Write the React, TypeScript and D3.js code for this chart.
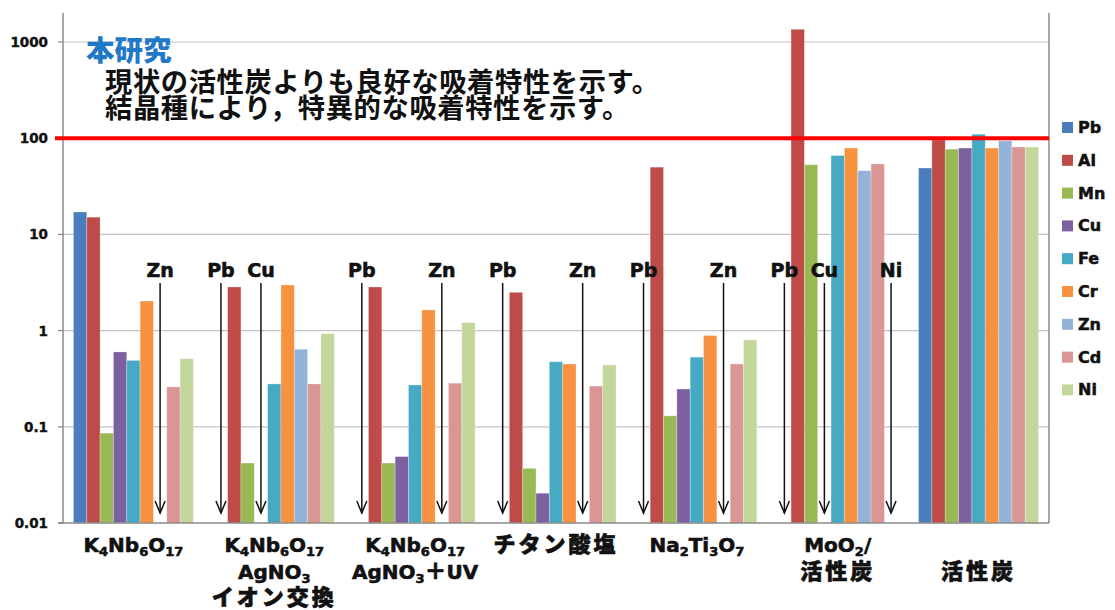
import React from 'react';
import * as d3 from 'd3';

// Adsorbed amount per adsorbent (log scale); null = not adsorbed (marked with an arrow)
const categories = ['K4Nb6O17', 'K4Nb6O17 AgNO3', 'K4Nb6O17 AgNO3+UV', 'チタン酸塩', 'Na2Ti3O7', 'MoO2/活性炭', '活性炭'];
const categoryLabelLines: string[][] = [
  ['K_{4}Nb_{6}O_{17}'],
  ['K_{4}Nb_{6}O_{17}', 'AgNO_{3}', 'イオン交換'],
  ['K_{4}Nb_{6}O_{17}', 'AgNO_{3}＋UV'],
  ['チタン酸塩'],
  ['Na_{2}Ti_{3}O_{7}'],
  ['MoO_{2}/', '活性炭'],
  ['', '活性炭'],
];

const metals = ['Pb', 'Al', 'Mn', 'Cu', 'Fe', 'Cr', 'Zn', 'Cd', 'Ni'];
const metalColors = ['#4a7ebb', '#be4b48', '#98b954', '#7d60a0', '#46aac5', '#f69240', '#94b3d7', '#d99694', '#c3d69b'];

const pbValues = [17.1, null, null, null, null, null, 49];
const alValues = [15.1, 2.84, 2.84, 2.5, 50, 1356, 96];
const mnValues = [0.086, 0.042, 0.042, 0.037, 0.13, 53, 77];
const cuValues = [0.6, null, 0.049, 0.0204, 0.247, null, 79];
const feValues = [0.49, 0.279, 0.272, 0.475, 0.53, 66, 110];
const crValues = [2.03, 2.98, 1.64, 0.45, 0.89, 79, 79];
const znValues = [null, 0.64, null, null, null, 46, 94];
const cdValues = [0.26, 0.279, 0.284, 0.265, 0.45, 54, 81];
const niValues = [0.51, 0.93, 1.21, 0.44, 0.8, null, 81];
const seriesValues: (number | null)[][] = [pbValues, alValues, mnValues, cuValues, feValues, crValues, znValues, cdValues, niValues];

const yTicks = [0.01, 0.1, 1, 10, 100, 1000];
const yTickLabels = ['0.01', '0.1', '1', '10', '100', '1000'];
const thresholdValue = 100;

const headline = '本研究';
const noteLines = ['現状の活性炭よりも良好な吸着特性を示す。', '結晶種により，特異的な吸着特性を示す。'];

const W = 1115;
const H = 610;
const left = 63;
const right = 1049;
const top = 13;
const bottom = 523;

const latinFont = '"DejaVu Sans", "Liberation Sans", sans-serif';
const cjkFont = '"Noto Sans CJK JP", "Noto Sans CJK SC", sans-serif';
const ink = '#111';

type Seg = { text: string; sub: boolean; cjk: boolean };

function splitLabel(line: string): Seg[] {
  const out: Seg[] = [];
  const re = /_\{([^}]*)\}|[\u3000-\u9fff\uff00-\uffef]+|[^_\u3000-\u9fff\uff00-\uffef]+/g;
  let m: RegExpExecArray | null;
  while ((m = re.exec(line))) {
    if (m[1] !== undefined) out.push({ text: m[1], sub: true, cjk: false });
    else out.push({ text: m[0], sub: false, cjk: /[\u3000-\u9fff\uff00-\uffef]/.test(m[0]) });
  }
  return out;
}

function CategoryLine({ x, y, line }: { x: number; y: number; line: string }) {
  const segs = splitLabel(line);
  let shifted = false;
  return (
    <text x={x} y={y} textAnchor="middle" fontWeight={900} fill={ink} stroke={ink} strokeWidth={0.6}>
      {segs.map((s, i) => {
        let dy = 0;
        if (s.sub && !shifted) { dy = 4; shifted = true; }
        else if (!s.sub && shifted) { dy = -4; shifted = false; }
        return (
          <tspan
            key={i}
            dy={dy || undefined}
            fontFamily={s.cjk ? cjkFont : latinFont}
            fontSize={s.cjk ? 22 : s.sub ? 13 : 20}
            letterSpacing={s.cjk && s.text.length > 1 ? 3 : 0}
          >
            {s.text}
          </tspan>
        );
      })}
    </text>
  );
}

export default function App() {
  const x0 = d3.scaleBand<string>().domain(categories).range([left, right]).paddingInner(0.148).paddingOuter(0.074);
  const x1 = d3.scaleBand<string>().domain(metals).range([0, x0.bandwidth()]);
  const y = d3.scaleLog().domain([0.01, 1000]).range([bottom, 42]);
  const bw = x1.bandwidth();

  const bars: React.ReactNode[] = [];
  const arrows: React.ReactNode[] = [];
  metals.forEach((metal, mi) => {
    seriesValues[mi].forEach((v, ci) => {
      const bx = (x0(categories[ci]) ?? 0) + (x1(metal) ?? 0);
      if (v == null) {
        const cx = bx + bw / 2;
        arrows.push(
          <g key={`a-${metal}-${ci}`}>
            <text x={cx} y={277} textAnchor="middle" fontFamily={latinFont} fontWeight={700} fontSize={19} fill={ink} stroke={ink} strokeWidth={0.6}>
              {metal}
            </text>
            <line x1={cx} x2={cx} y1={283} y2={513} stroke={ink} strokeWidth={1.5} />
            <path d={`M${cx - 5},${501}L${cx},${513}L${cx + 5},${501}`} fill="none" stroke={ink} strokeWidth={1.5} />
          </g>
        );
      } else {
        const by = y(v);
        bars.push(
          <rect
            key={`b-${metal}-${ci}`}
            x={bx}
            y={by}
            width={bw}
            height={bottom - by}
            fill={metalColors[mi]}
            stroke="rgba(255,255,255,0.35)"
            strokeWidth={0.8}
          />
        );
      }
    });
  });

  return (
    <svg width={W} height={H} style={{ position: 'absolute', left: 0, top: 0, background: '#fff' }}>
      {/* gridlines */}
      {yTicks.slice(1).map((t) => (
        <line key={`g${t}`} x1={left} x2={right} y1={y(t)} y2={y(t)} stroke="#c4c4c4" strokeWidth={1.2} />
      ))}
      {/* tick marks + labels */}
      {yTicks.map((t, i) => (
        <g key={`t${t}`}>
          <line x1={58} x2={left} y1={y(t)} y2={y(t)} stroke="#8a8a8a" strokeWidth={1.2} />
          <text x={48} y={y(t) + 5} textAnchor="end" fontFamily={latinFont} fontWeight={700} fontSize={13.5} fill={ink} stroke={ink} strokeWidth={0.4}>
            {yTickLabels[i]}
          </text>
        </g>
      ))}
      {bars}
      {/* axes */}
      <line x1={left} x2={left} y1={top} y2={bottom} stroke="#8a8a8a" strokeWidth={1.5} />
      <line x1={right} x2={right} y1={top} y2={bottom} stroke="#8a8a8a" strokeWidth={1.5} />
      <line x1={58} x2={right} y1={bottom} y2={bottom} stroke="#8a8a8a" strokeWidth={1.5} />
      {/* threshold line */}
      <line x1={55} x2={right} y1={y(thresholdValue)} y2={y(thresholdValue)} stroke="#ff0000" strokeWidth={4} />
      {arrows}
      {/* notes */}
      <text x={86} y={61} fontFamily={cjkFont} fontWeight={900} fontSize={28.5} fill="#1f78c8">
        {headline}
      </text>
      {noteLines.map((t, i) => (
        <text key={t} x={105} y={92 + i * 26} fontFamily={cjkFont} fontWeight={700} fontSize={27.3} letterSpacing={0.6} fill={ink}>
          {t}
        </text>
      ))}
      {/* category labels */}
      {categoryLabelLines.map((lines, ci) => {
        const cx = (x0(categories[ci]) ?? 0) + x0.bandwidth() / 2;
        return (
          <g key={`c${ci}`}>
            {lines.map((ln, li) => (ln ? <CategoryLine key={li} x={cx} y={552 + li * 26.5} line={ln} /> : null))}
          </g>
        );
      })}
      {/* legend */}
      {metals.map((m, i) => {
        const cy = 127.5 + i * 32.8;
        return (
          <g key={`l${m}`}>
            <rect x={1062} y={cy - 5.5} width={11} height={11} fill={metalColors[i]} />
            <text x={1078} y={cy + 5.5} fontFamily={latinFont} fontWeight={700} fontSize={16} fill={ink} stroke={ink} strokeWidth={0.5}>
              {m}
            </text>
          </g>
        );
      })}
    </svg>
  );
}
